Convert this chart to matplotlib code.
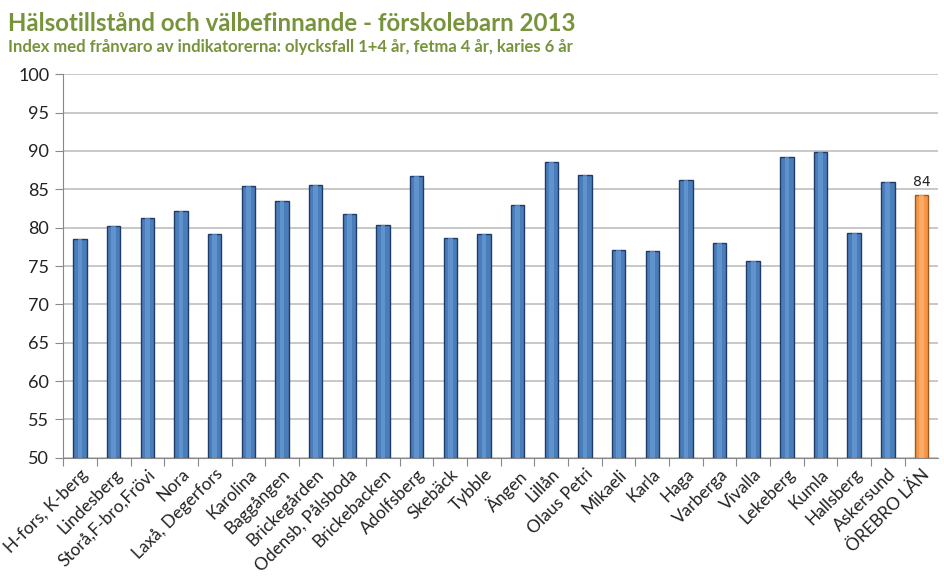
import numpy as np
import matplotlib
matplotlib.use("Agg")
import matplotlib.pyplot as plt

plt.rcParams['font.family'] = ['Lato', 'DejaVu Sans']

# data
areas = ["H-fors, K-berg", "Lindesberg", "Storå,F-bro,Frövi", "Nora", "Laxå, Degerfors",
         "Karolina", "Baggången", "Brickegården", "Odensb, Pålsboda", "Brickebacken",
         "Adolfsberg", "Skebäck", "Tybble", "Ängen", "Lillån", "Olaus Petri", "Mikaeli",
         "Karla", "Haga", "Varberga", "Vivalla", "Lekeberg", "Kumla", "Hallsberg",
         "Askersund", "ÖREBRO LÄN"]
index_values = [78.5, 80.2, 81.3, 82.2, 79.2, 85.4, 83.5, 85.6, 81.8, 80.3, 86.7, 78.7,
                79.2, 83.0, 88.6, 86.8, 77.1, 76.9, 86.2, 78.0, 75.6, 89.2, 89.8, 79.3,
                86.0, 84.2]
county = "ÖREBRO LÄN"
yticks = [50, 55, 60, 65, 70, 75, 80, 85, 90, 95, 100]

green = "#77933c"
blue = "#4a7ebb"
orange = "#f79646"

fig = plt.figure(figsize=(9.44, 5.84), dpi=100)
ax = fig.add_axes([0.067, 0.216, 0.927, 0.657])

x = np.arange(len(areas))
colors = [orange if a == county else blue for a in areas]
edges = ["#9a5a1e" if a == county else "#1f3b66" for a in areas]
bars = ax.bar(x, [v - 50 for v in index_values], bottom=50, width=0.4,
              color=colors, edgecolor=edges, linewidth=1.0, zorder=3)
# lighter middle to hint at the cylinder shading
ax.bar(x, [v - 50 for v in index_values], bottom=50, width=0.14,
       color=["#fbb57a" if a == county else "#6a9bd6" for a in areas],
       linewidth=0, zorder=4, alpha=0.7)

i = areas.index(county)
ax.text(x[i], index_values[i] + 0.9, f"{index_values[i]:.0f}", ha="center", va="bottom",
        fontsize=10, family="DejaVu Sans", color="#222222")

ax.set_xlim(-0.5, len(areas) - 0.5)
ax.set_ylim(50, 100)
ax.set_yticks(yticks)
ax.set_yticklabels([str(t) for t in yticks], fontsize=13, color="#222222")
ax.yaxis.grid(True, color="#bfbfbf", linewidth=1.2, zorder=0)
ax.set_axisbelow(True)

ax.set_xticks(x - 0.5, minor=False)
ax.set_xticklabels([])
ax.set_xticks(x, minor=True)
ax.set_xticklabels(areas, minor=True, rotation=45, ha="right", rotation_mode="anchor",
                   fontsize=12.5, color="#222222")
ax.tick_params(axis="x", which="major", length=6, color="#888888", direction="out")
ax.tick_params(axis="x", which="minor", length=0, pad=6)
ax.tick_params(axis="y", length=6, color="#888888", pad=4)

for s in ["top", "right"]:
    ax.spines[s].set_visible(False)
ax.spines["left"].set_color("#888888")
ax.spines["bottom"].set_color("#888888")

fig.text(0.009, 0.960, "Hälsotillstånd och välbefinnande - förskolebarn 2013",
         fontsize=17.3, fontweight="bold", color=green, va="center")
fig.text(0.009, 0.920, "Index med frånvaro av indikatorerna: olycksfall 1+4 år, fetma 4 år, karies 6 år",
         fontsize=12, fontweight="bold", color=green, va="center")

fig.savefig("out.png", dpi=100)
